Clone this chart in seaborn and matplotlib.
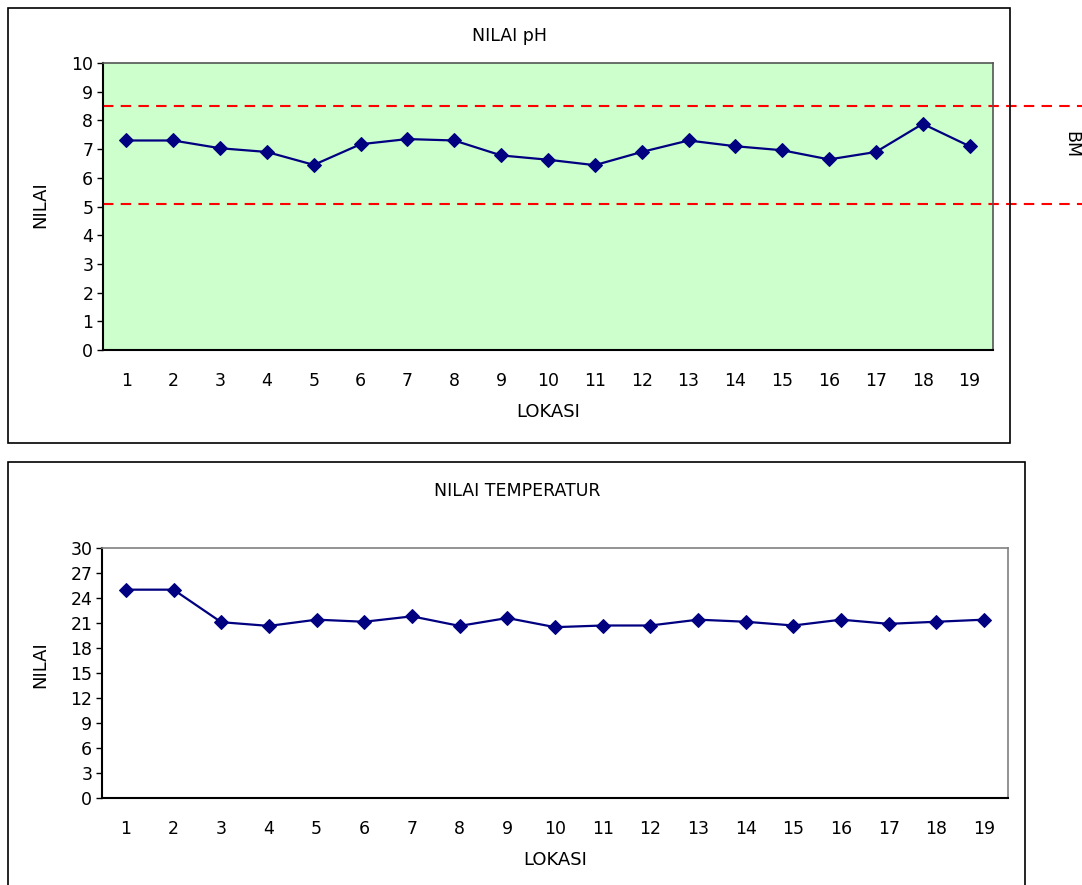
import numpy as np
import pandas as pd
import matplotlib
matplotlib.use("Agg")
import matplotlib.pyplot as plt
import seaborn as sns
from matplotlib.patches import Rectangle

lokasi = list(range(1, 20))
ph_values = [7.3, 7.3, 7.03, 6.9, 6.45, 7.17, 7.35, 7.3, 6.78, 6.63,
             6.44, 6.9, 7.3, 7.1, 6.96, 6.64, 6.9, 7.88, 7.1]
temp_values = [25.0, 25.0, 21.1, 20.65, 21.4, 21.15, 21.8, 20.65, 21.6, 20.5,
               20.7, 20.7, 21.4, 21.15, 20.7, 21.4, 20.9, 21.15, 21.4]
bm_limits = [8.5, 5.1]
ph_ticks = list(range(0, 11))
temp_ticks = list(range(0, 31, 3))

sns.set_style("white")
plt.rcParams['font.family'] = ['DejaVu Sans']
plt.rcParams['text.color'] = 'black'
plt.rcParams['xtick.color'] = 'black'
plt.rcParams['ytick.color'] = 'black'
plt.rcParams['axes.labelcolor'] = 'black'

W, H = 1082, 885
fig = plt.figure(figsize=(W / 100, H / 100), dpi=100)

def fx(px):
    return px / W

def fy(py):
    return 1 - py / H

def add_ax(left, top, right, bottom):
    return fig.add_axes([fx(left), fy(bottom), fx(right - left), (bottom - top) / H])

# outer frames
for (l, t, r, b) in [(8, 8, 1010, 443), (8, 462, 1025, 890)]:
    fig.patches.append(Rectangle((fx(l), fy(b)), fx(r - l), (b - t) / H,
                                 transform=fig.transFigure, fill=False,
                                 edgecolor='black', linewidth=1.2))

navy = '#000080'
FS = 12.5

def style_ax(ax, ticks, ymax, face):
    ax.set_facecolor(face)
    ax.set_xlim(0.5, 19.5)
    ax.set_ylim(0, ymax)
    ax.set_yticks(ticks)
    ax.set_yticklabels([str(t) for t in ticks], fontsize=FS, color='black')
    ax.set_xticks(lokasi)
    ax.set_xticklabels([str(v) for v in lokasi], fontsize=FS, color='black')
    ax.tick_params(axis='y', which='both', left=True, length=4, width=1, pad=3, color='black')
    ax.tick_params(axis='x', length=0, pad=16)
    for s in ['left', 'bottom']:
        ax.spines[s].set_color('black')
        ax.spines[s].set_linewidth(1.5)
    for s in ['top', 'right']:
        ax.spines[s].set_color('#555555')
        ax.spines[s].set_linewidth(1.2)
    ax.set_xlabel('')
    ax.set_ylabel('')
    ax.grid(False)

# ---- top chart: pH ----
ax1 = add_ax(103, 63, 993, 350)
df_ph = pd.DataFrame({'LOKASI': lokasi, 'NILAI': ph_values})
sns.lineplot(data=df_ph, x='LOKASI', y='NILAI', ax=ax1, color=navy,
             marker='D', markersize=7, markeredgecolor=navy, linewidth=1.6)
style_ax(ax1, ph_ticks, 10, '#CCFFCC')
ext = (1082 - 103) / (993 - 103)
for v in bm_limits:
    ax1.axhline(v, xmin=0, xmax=ext, color='red', linestyle=(0, (5, 3.5)),
                linewidth=1.5, clip_on=False, zorder=1)
fig.text(fx(510), fy(36), 'NILAI pH', ha='center', va='center', fontsize=FS)
fig.text(fx(548), fy(412), 'LOKASI', ha='center', va='center', fontsize=FS + 0.5)
fig.text(fx(40), fy(205), 'NILAI', ha='center', va='center', rotation=90, fontsize=FS + 0.5)
fig.text(fx(1071), fy(145), 'BM', ha='center', va='center', rotation=270, fontsize=12.5)

# ---- bottom chart: temperature ----
ax2 = add_ax(102, 548, 1008, 798)
df_t = pd.DataFrame({'LOKASI': lokasi, 'NILAI': temp_values})
sns.lineplot(data=df_t, x='LOKASI', y='NILAI', ax=ax2, color=navy,
             marker='D', markersize=7, markeredgecolor=navy, linewidth=1.6)
style_ax(ax2, temp_ticks, 30, 'white')
for s in ['top', 'right']:
    ax2.spines[s].set_color('#808080')
fig.text(fx(517), fy(491), 'NILAI TEMPERATUR', ha='center', va='center', fontsize=FS)
fig.text(fx(555), fy(860), 'LOKASI', ha='center', va='center', fontsize=FS + 0.5)
fig.text(fx(40), fy(665), 'NILAI', ha='center', va='center', rotation=90, fontsize=FS + 0.5)

fig.savefig('out.png', dpi=100)
